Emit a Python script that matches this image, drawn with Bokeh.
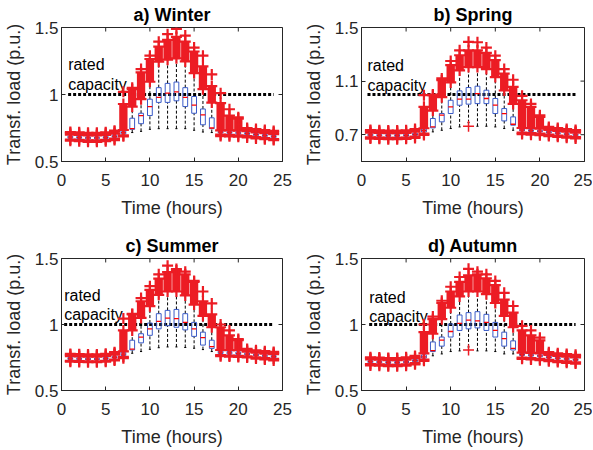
import numpy as np
from bokeh.plotting import figure
from bokeh.layouts import column, row
from bokeh.models import FixedTicker, Range1d
from bokeh.core.properties import value
from bokeh.embed import file_html
from bokeh.resources import INLINE

nan = float("nan")
hours = list(range(1, 25))
x_ticks = [0, 5, 10, 15, 20, 25]

# ---- a) Winter ----
a_q1 = [.673,.672,.668,.668,.672,.680,.705,.740,.782,.843,.941,.941,.953,.910,.860,.774,.745,.712,.710,.705,.700,.692,.685,.678]
a_med = [.682,.680,.676,.676,.680,.688,.715,.745,.843,.909,.978,1.010,1.020,.978,.921,.848,.750,.720,.718,.713,.708,.700,.693,.686]
a_q3 = [.690,.688,.684,.684,.688,.697,.728,.823,.860,.965,1.051,1.083,1.093,1.051,.985,.892,.826,.728,.726,.722,.716,.708,.701,.694]
a_wlo = [.664,.662,.658,.658,.662,.670,.695,.716,.725,.740,.745,.745,.745,.745,.733,.720,.716,.700,.698,.695,.690,.682,.675,.668]
a_whi = [.700,.698,.694,.694,.698,.708,.735,.910,.965,1.095,1.245,1.260,1.270,1.247,1.160,1.040,.940,.733,.733,.730,.726,.718,.711,.704]
a_btop = [.712,.710,.706,.706,.710,.722,.929,1.040,1.165,1.265,1.358,1.407,1.430,1.394,1.321,1.210,1.063,.936,.843,.820,.740,.732,.725,.718]
a_omax = [.720,.718,.714,.714,.718,.730,1.020,1.050,1.190,1.290,1.394,1.450,1.490,1.440,1.350,1.290,1.150,1.010,.890,.830,.750,.742,.735,.728]
a_lmin = [.655,.652,.647,.647,.652,.660,.688,nan,nan,nan,nan,nan,nan,nan,nan,nan,nan,.690,.688,.685,.680,.672,.666,.660]
a_lone_h = []
a_lone_v = []
a_yticks = [0.5, 1.0, 1.5]
a_ylabels = ["0.5", "1", "1.5"]

# ---- b) Spring ----
b_q1 = [.690,.688,.686,.686,.688,.695,.720,.751,.796,.858,.920,.928,.932,.932,.858,.803,.771,.728,.724,.720,.712,.705,.698,.692]
b_med = [.698,.696,.694,.694,.696,.703,.730,.758,.846,.908,.965,.965,1.007,.970,.920,.858,.778,.735,.731,.727,.719,.712,.705,.699]
b_q3 = [.706,.704,.702,.702,.704,.711,.742,.821,.858,.957,1.027,1.052,1.062,1.032,.970,.895,.833,.742,.738,.734,.726,.719,.712,.706]
b_wlo = [.680,.678,.676,.676,.678,.685,.708,.721,.733,.746,.758,.790,.763,.763,.758,.746,.733,.715,.712,.708,.700,.694,.688,.682]
b_whi = [.716,.714,.712,.712,.714,.722,.748,.880,.980,1.090,1.180,1.205,1.205,1.190,1.130,1.030,.930,.750,.748,.745,.735,.728,.722,.716]
b_btop = [.728,.726,.724,.724,.726,.735,.908,.995,1.107,1.219,1.293,1.330,1.330,1.310,1.256,1.156,1.057,.957,.908,.833,.748,.740,.733,.726]
b_omax = [.735,.733,.731,.731,.733,.742,.995,1.000,1.120,1.250,1.330,1.393,1.390,1.350,1.290,1.190,1.110,.990,.930,.845,.758,.750,.742,.735]
b_lmin = [.671,.669,.666,.666,.669,.676,.698,nan,nan,nan,nan,nan,nan,nan,nan,nan,nan,.705,.700,.696,.690,.684,.678,.672]
b_lone_h = [12]
b_lone_v = [0.763]
b_yticks = [0.7, 1.1, 1.5]
b_ylabels = ["0.7", "1.1", "1.5"]

# ---- c) Summer ----
c_q1 = [.735,.733,.731,.731,.735,.745,.765,.807,.861,.918,.967,.991,.979,.959,.910,.844,.819,.780,.775,.772,.768,.762,.755,.750]
c_med = [.742,.740,.738,.738,.742,.752,.775,.814,.905,.967,1.023,1.048,1.045,1.016,.967,.900,.832,.790,.785,.782,.776,.769,.762,.757]
c_q3 = [.750,.748,.746,.746,.750,.760,.790,.881,.930,1.011,1.082,1.107,1.114,1.082,1.016,.942,.881,.800,.795,.792,.784,.777,.770,.765]
c_wlo = [.725,.723,.721,.721,.725,.735,.755,.782,.795,.812,.824,.830,.830,.826,.820,.810,.795,.768,.765,.762,.758,.752,.745,.740]
c_whi = [.760,.758,.756,.756,.760,.772,.797,.955,1.050,1.139,1.225,1.250,1.250,1.220,1.151,1.065,.979,.807,.805,.805,.795,.787,.780,.775]
c_btop = [.770,.768,.766,.766,.770,.782,.955,1.077,1.176,1.262,1.348,1.397,1.410,1.380,1.323,1.176,1.077,.979,.917,.881,.805,.797,.790,.785]
c_omax = [.777,.775,.773,.773,.778,.790,1.045,1.080,1.200,1.290,1.380,1.446,1.420,1.400,1.330,1.250,1.160,1.000,.955,.890,.815,.805,.798,.792]
c_lmin = [.718,.716,.714,.714,.718,.728,.745,nan,nan,nan,nan,nan,nan,nan,nan,nan,nan,.760,.757,.754,.750,.742,.735,.728]
c_lone_h = []
c_lone_v = []
c_yticks = [0.5, 1.0, 1.5]
c_ylabels = ["0.5", "1", "1.5"]

# ---- d) Autumn ----
d_q1 = [.710,.708,.704,.704,.708,.718,.745,.795,.836,.905,.955,.967,.974,.955,.905,.836,.807,.765,.760,.755,.745,.738,.732,.726]
d_med = [.718,.716,.712,.712,.716,.726,.755,.802,.881,.947,1.008,1.033,1.028,1.016,.955,.893,.819,.772,.768,.762,.752,.745,.740,.733]
d_q3 = [.726,.724,.720,.720,.724,.734,.770,.868,.905,1.004,1.072,1.090,1.097,1.077,1.016,.942,.876,.780,.775,.770,.760,.752,.747,.740]
d_wlo = [.700,.698,.694,.694,.698,.708,.735,.763,.777,.795,.800,.830,.800,.800,.795,.777,.777,.750,.745,.740,.732,.725,.720,.714]
d_whi = [.736,.734,.730,.730,.734,.745,.782,.930,1.040,1.127,1.213,1.250,1.250,1.230,1.163,1.065,.979,.787,.785,.782,.770,.762,.757,.750]
d_btop = [.745,.743,.740,.740,.745,.755,.942,1.040,1.163,1.250,1.323,1.372,1.380,1.350,1.299,1.188,1.090,.955,.917,.880,.780,.772,.767,.760]
d_omax = [.752,.750,.746,.746,.752,.762,1.000,1.060,1.180,1.286,1.360,1.422,1.400,1.380,1.330,1.240,1.140,.990,.955,.900,.790,.782,.776,.770]
d_lmin = [.690,.688,.684,.684,.688,.698,.725,nan,nan,nan,nan,nan,nan,nan,nan,nan,nan,.740,.735,.730,.722,.715,.710,.704]
d_lone_h = [12]
d_lone_v = [0.807]
d_yticks = [0.5, 1.0, 1.5]
d_ylabels = ["0.5", "1", "1.5"]

rated_level = 1.0

RED = "#ec1c24"
BLUE = "#3a5bc7"
AX = "#262626"
FONT = "Liberation Sans"


def style_axis(ax, ticks, labels=None, label_standoff=3, axis_standoff=6):
    ax.ticker = FixedTicker(ticks=ticks)
    if labels is not None:
        ax.major_label_overrides = {t: l for t, l in zip(ticks, labels)}
    ax.major_tick_in = 4
    ax.major_tick_out = 0
    ax.minor_tick_line_color = None
    ax.axis_line_color = AX
    ax.major_tick_line_color = AX
    ax.major_label_text_font = FONT
    ax.major_label_text_color = AX
    ax.major_label_text_font_size = "17px"
    ax.major_label_standoff = label_standoff
    ax.axis_label_text_font = FONT
    ax.axis_label_text_font_size = "18px"
    ax.axis_label_text_font_style = "normal"
    ax.axis_label_text_color = AX
    ax.axis_label_standoff = axis_standoff


def panel(title, q1, med, q3, wlo, whi, btop, omax, lmin, lone_h, lone_v,
          yticks, ylabels, txt_x, rated_y, cap_y,
          width, height, bl, br, bt, bb):
    p = figure(width=width, height=height, x_range=Range1d(0, 25),
               y_range=Range1d(0.5, 1.5), output_backend="svg",
               toolbar_location=None, title=title,
               min_border_left=bl, min_border_right=br,
               min_border_top=bt, min_border_bottom=bb)
    p.title.text_font = FONT
    p.title.text_font_size = "18px"
    p.title.text_font_style = "bold"
    p.title.align = "center"
    p.title.standoff = 5
    p.title.text_color = "black"
    p.xgrid.visible = False
    p.ygrid.visible = False
    p.outline_line_color = AX
    p.background_fill_color = "white"
    p.border_fill_color = "white"

    style_axis(p.xaxis[0], x_ticks, label_standoff=12, axis_standoff=9)
    style_axis(p.yaxis[0], yticks, ylabels, label_standoff=3, axis_standoff=8)
    p.xaxis[0].axis_label = "Time (hours)"
    p.yaxis[0].axis_label = "Transf. load (p.u.)"

    # ticks on the top and right edges (MATLAB box style)
    xt = np.array(x_ticks, dtype=float)
    yt = np.array(yticks, dtype=float)
    p.segment(x0=xt, y0=1.5, x1=xt, y1=1.5 - 0.03, line_color=AX, line_width=1)
    p.segment(x0=25, y0=yt, x1=25 - 0.45, y1=yt, line_color=AX, line_width=1)

    h = np.array(hours, dtype=float)
    q1 = np.array(q1); med = np.array(med); q3 = np.array(q3)
    wlo = np.array(wlo); whi = np.array(whi)
    btop = np.array(btop); omax = np.array(omax); lmin = np.array(lmin)

    # rated capacity line
    p.line([txt_x, 24.0], [rated_level, rated_level], line_color="black",
           line_width=3, line_dash="3 2")
    p.text(x=[txt_x], y=[rated_y], text=["rated"], text_font=value(FONT),
           text_font_size="16px", text_color="black", text_align="left",
           text_baseline="alphabetic")
    p.text(x=[txt_x], y=[cap_y], text=["capacity"], text_font=value(FONT),
           text_font_size="16px", text_color="black", text_align="left",
           text_baseline="alphabetic")

    # whiskers
    p.segment(x0=h, y0=q3, x1=h, y1=whi, line_color="black", line_width=1,
              line_dash="3 2")
    p.segment(x0=h, y0=wlo, x1=h, y1=q1, line_color="black", line_width=1,
              line_dash="3 2")
    p.segment(x0=h - 0.12, y0=wlo, x1=h + 0.12, y1=wlo, line_color="black",
              line_width=1)
    p.segment(x0=h - 0.12, y0=whi, x1=h + 0.12, y1=whi, line_color="black",
              line_width=1)
    # boxes
    p.quad(left=h - 0.27, right=h + 0.27, bottom=q1, top=q3,
           fill_color=None, line_color=BLUE, line_width=1)
    p.segment(x0=h - 0.27, y0=med, x1=h + 0.27, y1=med, line_color="red",
              line_width=1.3)

    # dense outliers above the upper whisker
    p.quad(left=h - 0.47, right=h + 0.47, bottom=whi, top=btop,
           fill_color=RED, line_color=None)
    for yy in (whi, btop, omax):
        p.scatter(h, yy, marker="cross", size=11, line_color=RED,
                  line_width=2.2)
    # outliers below the lower whisker
    wlo_low = np.where(np.isnan(lmin), np.nan, wlo)
    p.quad(left=h - 0.47, right=h + 0.47, bottom=lmin, top=wlo_low,
           fill_color=RED, line_color=None)
    for yy in (lmin, wlo_low):
        p.scatter(h, yy, marker="cross", size=11, line_color=RED,
                  line_width=2.2)
    if lone_h:
        p.scatter(lone_h, lone_v, marker="cross", size=11, line_color=RED,
                  line_width=1.5)
    return p


pa = panel("a) Winter", a_q1, a_med, a_q3, a_wlo, a_whi, a_btop, a_omax, a_lmin,
           a_lone_h, a_lone_v, a_yticks, a_ylabels, 0.75, 1.223, 1.076,
           300, 230, 58, 18, 27, 67)
pb = panel("b) Spring", b_q1, b_med, b_q3, b_wlo, b_whi, b_btop, b_omax, b_lmin,
           b_lone_h, b_lone_v, b_yticks, b_ylabels, 0.67, 1.219, 1.069,
           292, 230, 60, 8, 27, 69)
pc = panel("c) Summer", c_q1, c_med, c_q3, c_wlo, c_whi, c_btop, c_omax, c_lmin,
           c_lone_h, c_lone_v, c_yticks, c_ylabels, 0.3, 1.22, 1.072,
           300, 219, 60, 18, 28, 55)
pd = panel("d) Autumn", d_q1, d_med, d_q3, d_wlo, d_whi, d_btop, d_omax, d_lmin,
           d_lone_h, d_lone_v, d_yticks, d_ylabels, 0.86, 1.205, 1.058,
           292, 219, 59, 8, 28, 55)

layout = column(row(pa, pb), row(pc, pd))
open("out.html", "w").write(file_html(layout, INLINE))
